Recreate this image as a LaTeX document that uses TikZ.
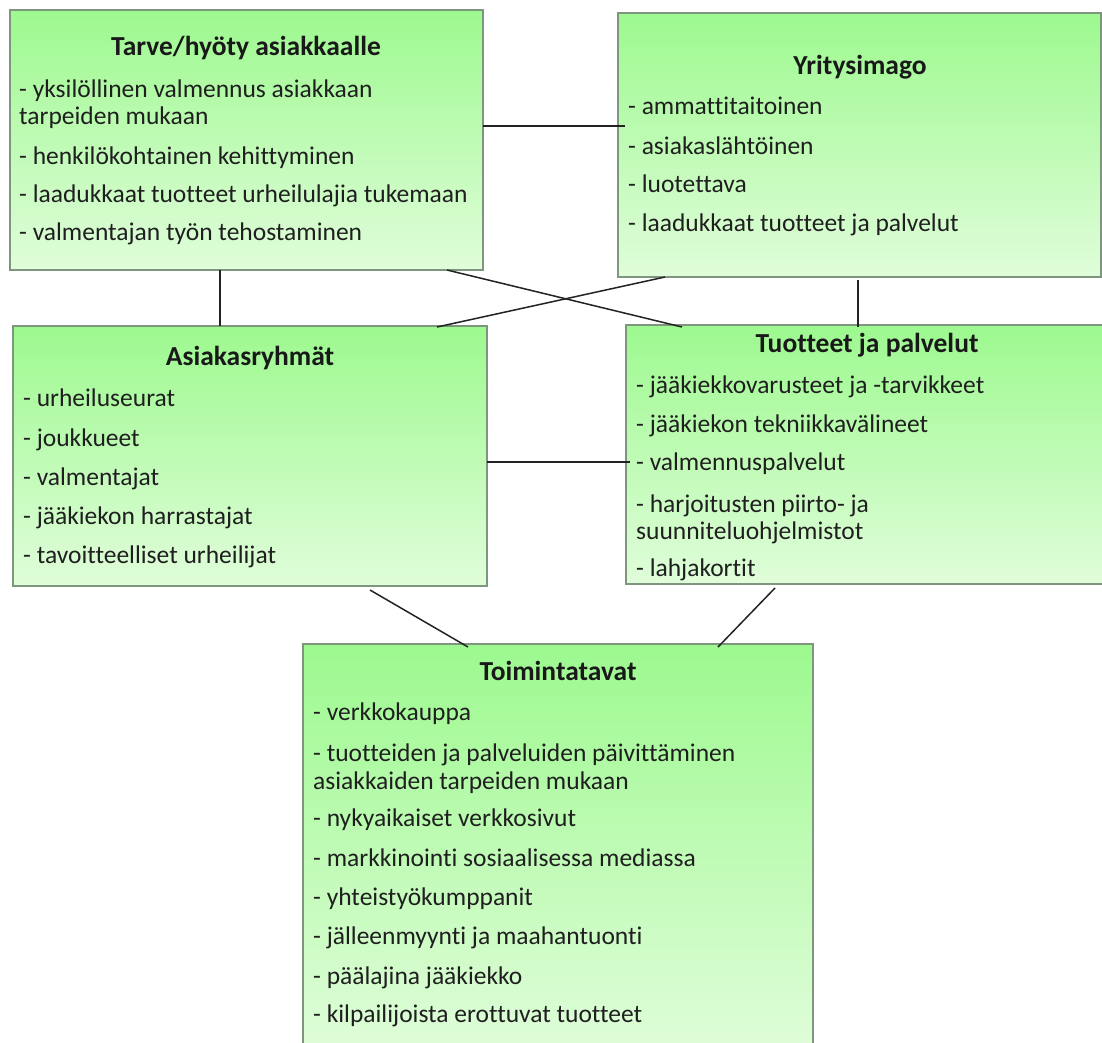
\documentclass[tikz,border=0pt]{standalone}
\usepackage{fontspec}
\setmainfont{Carlito}[Ligatures=CommonOff]
\definecolor{boxtop}{RGB}{157,249,143}
\definecolor{boxbot}{RGB}{224,253,218}
\definecolor{boxline}{RGB}{125,150,125}
\definecolor{connline}{RGB}{35,35,35}
\tikzset{
  box/.style={draw=boxline, line width=1.3pt, top color=boxtop, bottom color=boxbot,
    anchor=north west, inner sep=0pt, outer sep=0pt},
  boxtitle/.style={anchor=base, inner sep=0pt, font=\fontsize{27.5}{30}\selectfont\bfseries, text=black!90},
  item/.style={anchor=base west, inner sep=0pt, font=\fontsize{25.5}{28}\selectfont, text=black!88},
  conn/.style={draw=connline, line width=1.5pt}
}
\begin{document}
\begin{tikzpicture}[x=1pt,y=-1pt]
\useasboundingbox (0,0) rectangle (1102,1042);
\fill[white] (0,0) rectangle (1102,1042);

% boxes
\node[box, minimum width=473pt, minimum height=260pt] (tarve) at (10,10) {};
\node[box, minimum width=483pt, minimum height=264pt] (yritys) at (618,13) {};
\node[box, minimum width=474pt, minimum height=260pt] (asiak) at (13,326) {};
\node[box, minimum width=484pt, minimum height=259pt] (tuote) at (626,325) {};
\node[box, minimum width=510pt, minimum height=410pt] (toimi) at (303,644) {};

% connectors
\draw[conn] ([yshift=-116pt]tarve.north east) -- ([xshift=7pt,yshift=-113pt]yritys.north west);
\draw[conn] ([xshift=210pt]tarve.south west) -- ([xshift=207pt]asiak.north west);
\draw[conn] ([xshift=240pt,yshift=-3pt]yritys.south west) -- ([xshift=232pt,yshift=-2pt]tuote.north west);
\draw[conn] ([xshift=437pt]tarve.south west) -- ([xshift=56pt,yshift=-2pt]tuote.north west);
\draw[conn] ([xshift=47pt]yritys.south west) -- ([xshift=424pt,yshift=-1pt]asiak.north west);
\draw[conn] ([yshift=124pt]asiak.south east) -- ([xshift=4pt,yshift=-137pt]tuote.north west);
\draw[conn] ([xshift=357pt,yshift=-4pt]asiak.south west) -- ([xshift=165pt,yshift=-3pt]toimi.north west);
\draw[conn] ([xshift=149pt,yshift=-4pt]tuote.south west) -- ([xshift=415pt,yshift=-3pt]toimi.north west);

% Tarve/hyoty
\node[boxtitle] (tarveT) at (246,55) {Tarve/hyöty asiakkaalle};
\node[item] (tarve1) at (19,97) {- yksilöllinen valmennus asiakkaan};
\node[item] (tarve1b) at (19,124) {tarpeiden mukaan};
\node[item] (tarve2) at (19,164) {- henkilökohtainen kehittyminen};
\node[item] (tarve3) at (19,202) {- laadukkaat tuotteet urheilulajia tukemaan};
\node[item] (tarve4) at (19,240) {- valmentajan työn tehostaminen};

% Yritysimago
\node[boxtitle] (yritysT) at (860,74) {Yritysimago};
\node[item] (yritys1) at (628,114) {- ammattitaitoinen};
\node[item] (yritys2) at (628,154) {- asiakaslähtöinen};
\node[item] (yritys3) at (628,192) {- luotettava};
\node[item] (yritys4) at (628,231) {- laadukkaat tuotteet ja palvelut};

% Asiakasryhmat
\node[boxtitle] (asiakT) at (250,365) {Asiakasryhmät};
\node[item] (asiak1) at (23,406) {- urheiluseurat};
\node[item] (asiak2) at (23,446) {- joukkueet};
\node[item] (asiak3) at (23,485) {- valmentajat};
\node[item] (asiak4) at (23,524) {- jääkiekon harrastajat};
\node[item] (asiak5) at (23,563) {- tavoitteelliset urheilijat};

% Tuotteet ja palvelut
\node[boxtitle] (tuoteT) at (867,352) {Tuotteet ja palvelut};
\node[item] (tuote1) at (636,393) {- jääkiekkovarusteet ja -tarvikkeet};
\node[item] (tuote2) at (636,432) {- jääkiekon tekniikkavälineet};
\node[item] (tuote3) at (636,470) {- valmennuspalvelut};
\node[item] (tuote4) at (636,512) {- harjoitusten piirto- ja};
\node[item] (tuote4b) at (636,539) {suunniteluohjelmistot};
\node[item] (tuote5) at (636,576) {- lahjakortit};

% Toimintatavat
\node[boxtitle] (toimiT) at (558,680) {Toimintatavat};
\node[item] (toimi1) at (313,720) {- verkkokauppa};
\node[item] (toimi2) at (313,761) {- tuotteiden ja palveluiden päivittäminen};
\node[item] (toimi2b) at (313,789) {asiakkaiden tarpeiden mukaan};
\node[item] (toimi3) at (313,826) {- nykyaikaiset verkkosivut};
\node[item] (toimi4) at (313,866) {- markkinointi sosiaalisessa mediassa};
\node[item] (toimi5) at (313,905) {- yhteistyökumppanit};
\node[item] (toimi6) at (313,944) {- jälleenmyynti ja maahantuonti};
\node[item] (toimi7) at (313,984) {- päälajina jääkiekko};
\node[item] (toimi8) at (313,1022) {- kilpailijoista erottuvat tuotteet};
\end{tikzpicture}
\end{document}
